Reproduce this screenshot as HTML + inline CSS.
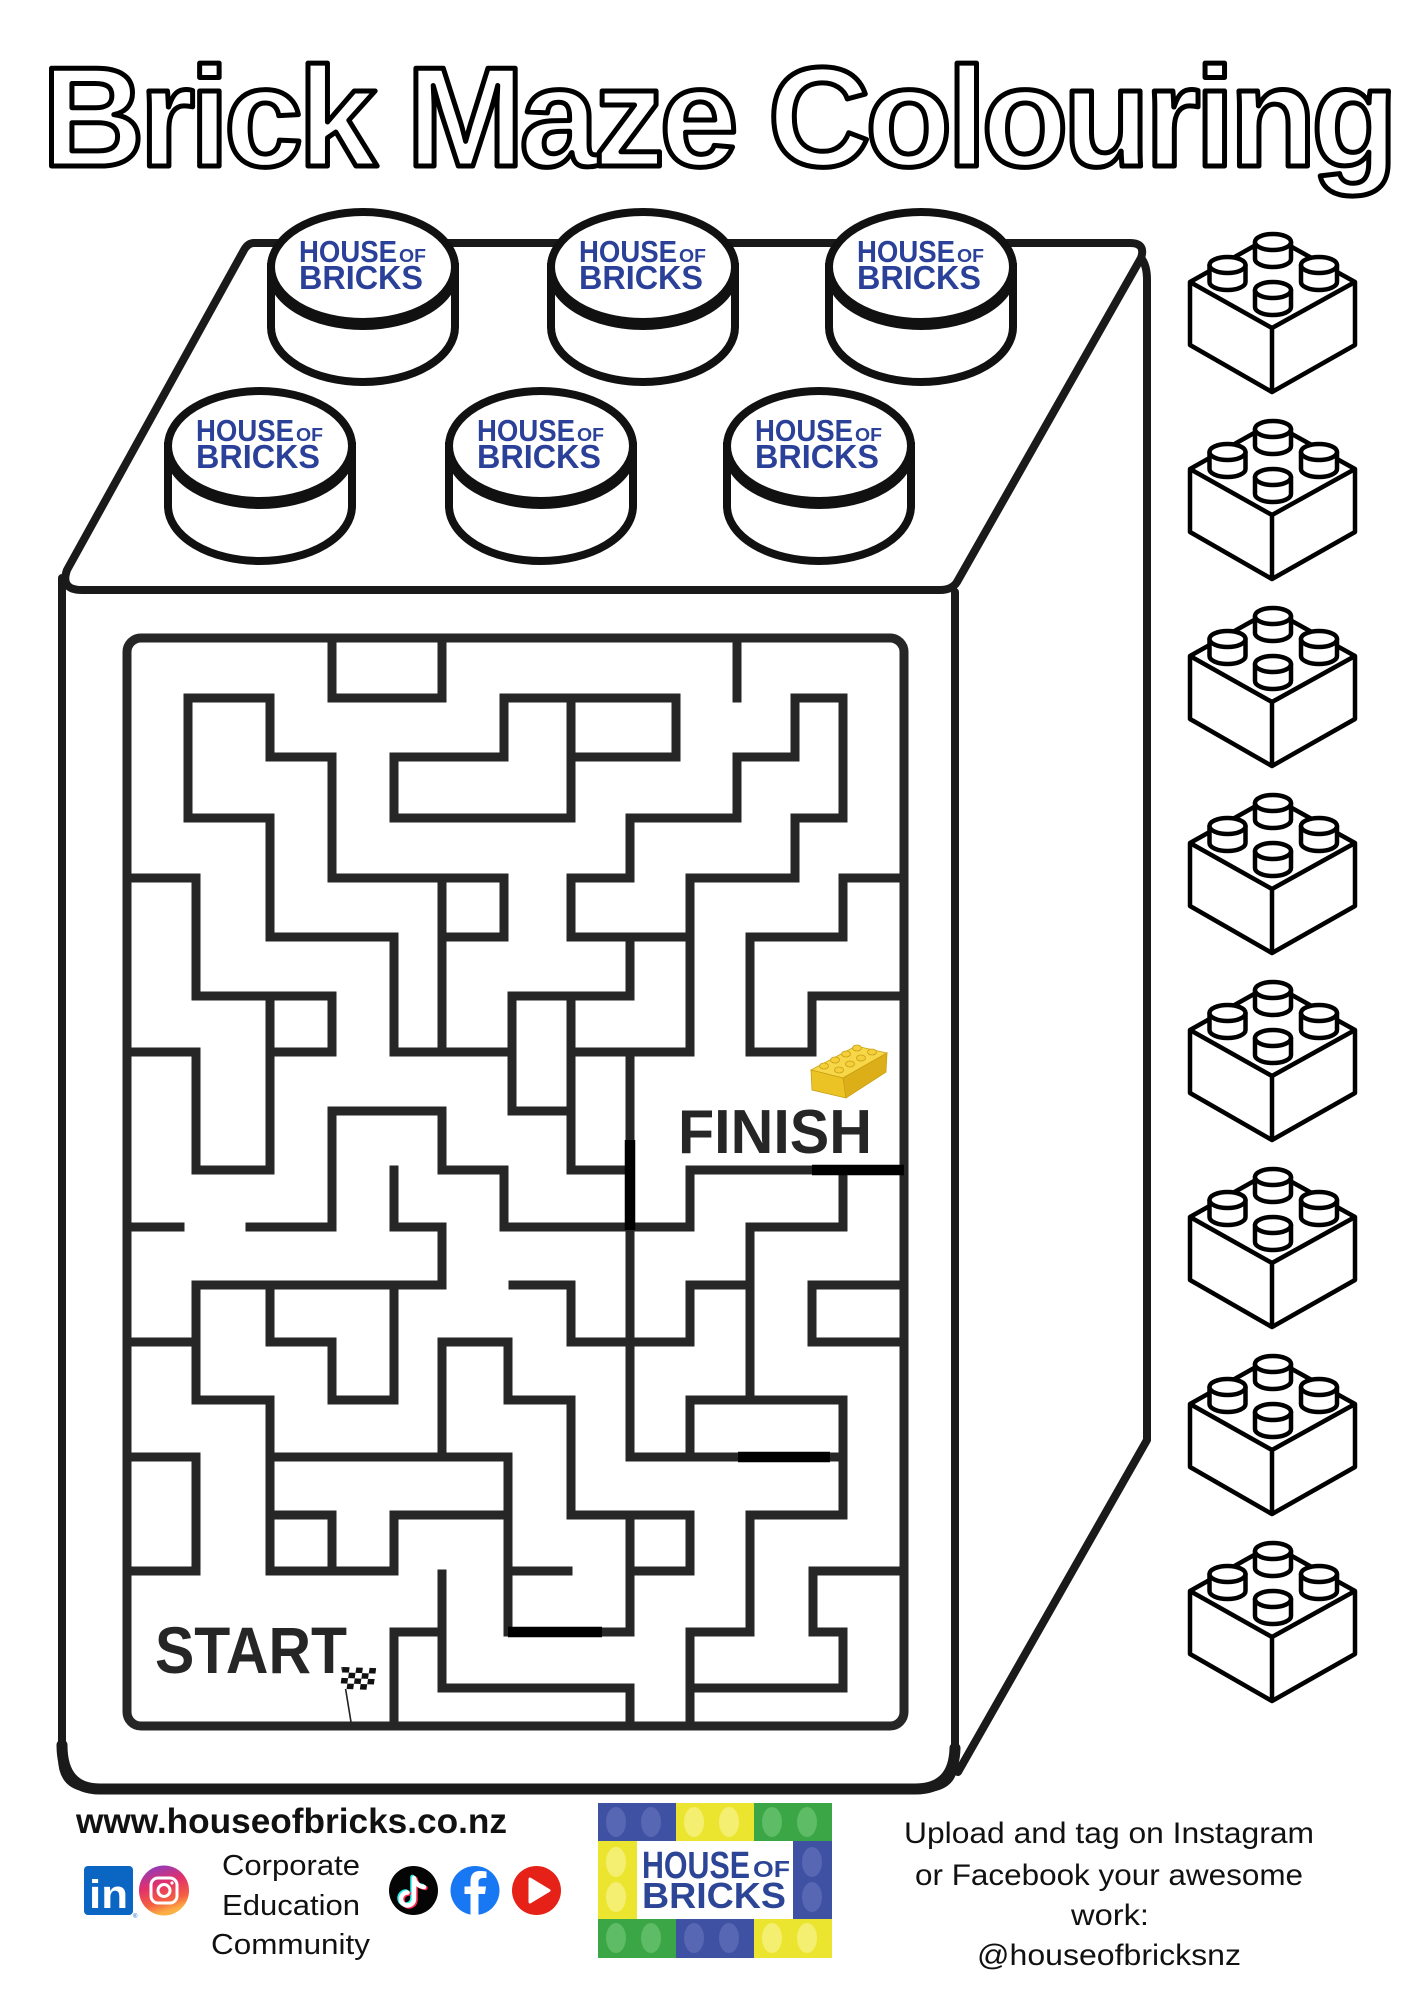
<!DOCTYPE html>
<html>
<head>
<meta charset="utf-8">
<style>
  html,body{margin:0;padding:0;background:#fff;}
  svg{display:block;}
  text{font-family:"Liberation Sans", Arial, sans-serif;}
</style>
</head>
<body>
<svg width="1414" height="2000" viewBox="0 0 1414 2000" xmlns="http://www.w3.org/2000/svg">
  <defs>
    <linearGradient id="ig" x1="0" y1="0" x2="0.3" y2="1">
      <stop offset="0" stop-color="#7b3fd0"/>
      <stop offset="0.45" stop-color="#e1306c"/>
      <stop offset="0.8" stop-color="#f56040"/>
      <stop offset="1" stop-color="#fcaf45"/>
    </linearGradient>
    <g id="lb">
      <g fill="#fff" stroke="#000" stroke-width="4.5" stroke-linejoin="round">
        <path d="M1190,282 L1272,236 L1355,282 V345 L1272,392 L1190,345 Z"/>
        <path d="M1190,282 L1272,328 L1355,282 M1272,328 V392" fill="none"/>
        <!-- back stud -->
        <path d="M1255,242 V259 A18 8 0 0 0 1291,259 V242 Z"/>
        <ellipse cx="1273" cy="242" rx="18" ry="8"/>
        <!-- left stud -->
        <path d="M1209.5,265 V282 A18 8 0 0 0 1245.5,282 V265 Z"/>
        <ellipse cx="1227.5" cy="265" rx="18" ry="8"/>
        <!-- right stud -->
        <path d="M1301,265 V282 A18 8 0 0 0 1337,282 V265 Z"/>
        <ellipse cx="1319" cy="265" rx="18" ry="8"/>
        <!-- front stud -->
        <path d="M1255,290 V307 A18 8 0 0 0 1291,307 V290 Z"/>
        <ellipse cx="1273" cy="290" rx="18" ry="8"/>
      </g>
    </g>
  </defs>

  <rect width="1414" height="2000" fill="#fff"/>

  <!-- Title -->
  <text x="42" y="166" font-size="142" font-weight="bold" fill="#fff" stroke="#000" stroke-width="5" stroke-linejoin="round" textLength="1356" lengthAdjust="spacing">Brick Maze Colouring</text>

  <!-- Big brick body -->
  <g fill="none" stroke="#1a1a1a" stroke-width="8" stroke-linejoin="round" stroke-linecap="round">
    <path d="M254,243 H1130 Q1146,243 1141,258 L957,582 Q952,590 940,590 H82 Q60,590 67,570 L244,250 Q248,243 254,243 Z" fill="#fff"/>
    <path d="M62,578 V1758 Q62,1788 92,1788 H925 Q955,1788 955,1758 V592"/>
    <path d="M1141,258 Q1147,265 1147,280 V1440 L958,1772"/>
    <path d="M62,1745 Q62,1789 100,1789 H915 Q954,1789 955,1748" stroke-width="11"/>
  </g>

  <!-- Studs: back row -->
  <g fill="#fff" stroke="#111" stroke-width="8">
    <path d="M271,267 V327 A92 55 0 0 0 455,327 V267 Z"/>
    <ellipse cx="363" cy="267" rx="92" ry="55"/>
    <path d="M271,271 A92 55 0 0 0 455,271" fill="none"/>
    <path d="M551,267 V327 A92 55 0 0 0 735,327 V267 Z"/>
    <ellipse cx="643" cy="267" rx="92" ry="55"/>
    <path d="M551,271 A92 55 0 0 0 735,271" fill="none"/>
    <path d="M829,267 V327 A92 55 0 0 0 1013,327 V267 Z"/>
    <ellipse cx="921" cy="267" rx="92" ry="55"/>
    <path d="M829,271 A92 55 0 0 0 1013,271" fill="none"/>
    <!-- front row -->
    <path d="M168,446 V506 A92 55 0 0 0 352,506 V446 Z"/>
    <ellipse cx="260" cy="446" rx="92" ry="55"/>
    <path d="M168,450 A92 55 0 0 0 352,450" fill="none"/>
    <path d="M449,446 V506 A92 55 0 0 0 633,506 V446 Z"/>
    <ellipse cx="541" cy="446" rx="92" ry="55"/>
    <path d="M449,450 A92 55 0 0 0 633,450" fill="none"/>
    <path d="M727,446 V506 A92 55 0 0 0 911,506 V446 Z"/>
    <ellipse cx="819" cy="446" rx="92" ry="55"/>
    <path d="M727,450 A92 55 0 0 0 911,450" fill="none"/>
  </g>

  <!-- Stud logos -->
  <g fill="#2b4199" font-weight="bold">
    <text x="299" y="262" font-size="31" textLength="98" lengthAdjust="spacingAndGlyphs">HOUSE</text>
    <text x="399" y="262" font-size="18" textLength="27" lengthAdjust="spacingAndGlyphs">OF</text>
    <text x="299" y="289" font-size="33" textLength="124" lengthAdjust="spacingAndGlyphs">BRICKS</text>

    <text x="579" y="262" font-size="31" textLength="98" lengthAdjust="spacingAndGlyphs">HOUSE</text>
    <text x="679" y="262" font-size="18" textLength="27" lengthAdjust="spacingAndGlyphs">OF</text>
    <text x="579" y="289" font-size="33" textLength="124" lengthAdjust="spacingAndGlyphs">BRICKS</text>

    <text x="857" y="262" font-size="31" textLength="98" lengthAdjust="spacingAndGlyphs">HOUSE</text>
    <text x="957" y="262" font-size="18" textLength="27" lengthAdjust="spacingAndGlyphs">OF</text>
    <text x="857" y="289" font-size="33" textLength="124" lengthAdjust="spacingAndGlyphs">BRICKS</text>

    <text x="196" y="441" font-size="31" textLength="98" lengthAdjust="spacingAndGlyphs">HOUSE</text>
    <text x="296" y="441" font-size="18" textLength="27" lengthAdjust="spacingAndGlyphs">OF</text>
    <text x="196" y="468" font-size="33" textLength="124" lengthAdjust="spacingAndGlyphs">BRICKS</text>

    <text x="477" y="441" font-size="31" textLength="98" lengthAdjust="spacingAndGlyphs">HOUSE</text>
    <text x="577" y="441" font-size="18" textLength="27" lengthAdjust="spacingAndGlyphs">OF</text>
    <text x="477" y="468" font-size="33" textLength="124" lengthAdjust="spacingAndGlyphs">BRICKS</text>

    <text x="755" y="441" font-size="31" textLength="98" lengthAdjust="spacingAndGlyphs">HOUSE</text>
    <text x="855" y="441" font-size="18" textLength="27" lengthAdjust="spacingAndGlyphs">OF</text>
    <text x="755" y="468" font-size="33" textLength="124" lengthAdjust="spacingAndGlyphs">BRICKS</text>
  </g>

  <!-- Maze -->
  <g fill="none" stroke="#262626" stroke-width="9" stroke-linecap="square" stroke-linejoin="miter">
    <rect x="127" y="638" width="777" height="1088" rx="14"/>
    <path d="M332,638 V698 H442 V638"/>
    <path d="M270,757 V698 H188 V818 H270 V937 H394 V1052"/>
    <path d="M270,757 H332 V878 H504 V937 H442"/>
    <path d="M442,878 V1052"/>
    <path d="M127,878 H196 V996 H332 V1052 H270"/>
    <path d="M270,996 V1170 H196 V1052 H127"/>
    <path d="M504,698 V757 H394 V818 H571 V698"/>
    <path d="M504,698 H676 V757 H571"/>
    <path d="M737,638 V698"/>
    <path d="M737,757 H795 V698 H843 V818 H795 V878 H690 V1052 H571"/>
    <path d="M737,757 V818 H630 V878 H571 V937 H690"/>
    <path d="M630,937 V996 H512 V1111 H571"/>
    <path d="M571,996 V1170 H630"/>
    <path d="M904,878 H843 V937 H750 V1052 H812 V996 H904"/>
    <path d="M630,1052 V1457"/>
    <path d="M394,1052 H512"/>
    <path d="M332,1227 V1111 H442 V1170 H504 V1227 H690 V1170 H904"/>
    <path d="M127,1227 H180"/>
    <path d="M250,1227 H332"/>
    <path d="M394,1170 V1227 H442 V1285 H196 V1400 H270 V1571 H394 V1515 H508 V1632 H630"/>
    <path d="M270,1515 H332 V1571"/>
    <path d="M270,1285 V1342 H332 V1400 H394 V1285"/>
    <path d="M513,1285 H571 V1342 H690 V1285 H750"/>
    <path d="M843,1170 V1227 H750 V1400"/>
    <path d="M904,1285 H812 V1342 H904"/>
    <path d="M442,1342 H508 V1400 H571 V1515 H690 V1571 H630"/>
    <path d="M442,1342 V1457"/>
    <path d="M270,1457 H508 V1515"/>
    <path d="M127,1457 H196 V1571 H127"/>
    <path d="M630,1457 H843"/>
    <path d="M690,1400 V1457"/>
    <path d="M690,1400 H843 V1515 H750 V1632 H690 V1726"/>
    <path d="M508,1571 H568"/>
    <path d="M904,1571 H813 V1632 H843 V1688 H690"/>
    <path d="M442,1574 V1688 H630 V1726"/>
    <path d="M394,1632 H442"/>
    <path d="M394,1632 V1726"/>
    <path d="M127,1342 H196"/>
    <path d="M630,1515 V1632"/>
  </g>
  <g stroke="#000" stroke-width="10.5" fill="none">
    <path d="M630,1140 V1230"/>
    <path d="M812,1170 H904"/>
    <path d="M738,1457 H830"/>
    <path d="M508,1632 H602"/>
  </g>

  <!-- FINISH / START -->
  <text x="678" y="1153" font-size="62" font-weight="bold" fill="#262626" textLength="194" lengthAdjust="spacingAndGlyphs">FINISH</text>
  <text x="155" y="1673" font-size="66" font-weight="bold" fill="#262626" textLength="192" lengthAdjust="spacingAndGlyphs">START</text>

  <!-- yellow brick -->
  <g stroke="#c9a013" stroke-width="0.8">
    <path d="M811,1070 L856,1046 L887,1053 L843,1078 Z" fill="#f7d648"/>
    <path d="M811,1070 L843,1078 L846,1098 L812,1090 Z" fill="#ecc325"/>
    <path d="M843,1078 L887,1053 L886,1072 L846,1098 Z" fill="#dcae18"/>
    <g fill="#f4cf3a">
      <ellipse cx="824" cy="1066" rx="4.5" ry="3"/>
      <ellipse cx="835" cy="1060" rx="4.5" ry="3"/>
      <ellipse cx="846" cy="1054" rx="4.5" ry="3"/>
      <ellipse cx="857" cy="1048" rx="4.5" ry="3"/>
      <ellipse cx="839" cy="1070" rx="4.5" ry="3"/>
      <ellipse cx="850" cy="1064" rx="4.5" ry="3"/>
      <ellipse cx="861" cy="1058" rx="4.5" ry="3"/>
      <ellipse cx="872" cy="1052" rx="4.5" ry="3"/>
    </g>
  </g>

  <!-- checkered flag -->
  <line x1="342" y1="1667" x2="351" y2="1722" stroke="#222" stroke-width="1.6"/>
  <g transform="translate(343,1667) rotate(8) skewY(-6)">
    <rect x="0" y="0" width="33" height="22" fill="#fff"/>
    <g fill="#111">
      <rect x="0" y="0" width="6.6" height="5.5"/>
      <rect x="13.2" y="0" width="6.6" height="5.5"/>
      <rect x="26.4" y="0" width="6.6" height="5.5"/>
      <rect x="6.6" y="5.5" width="6.6" height="5.5"/>
      <rect x="19.8" y="5.5" width="6.6" height="5.5"/>
      <rect x="0" y="11" width="6.6" height="5.5"/>
      <rect x="13.2" y="11" width="6.6" height="5.5"/>
      <rect x="26.4" y="11" width="6.6" height="5.5"/>
      <rect x="6.6" y="16.5" width="6.6" height="5.5"/>
      <rect x="19.8" y="16.5" width="6.6" height="5.5"/>
    </g>
  </g>

  <!-- Right column bricks -->
  <use href="#lb"/>
  <use href="#lb" transform="translate(0,187)"/>
  <use href="#lb" transform="translate(0,374)"/>
  <use href="#lb" transform="translate(0,561)"/>
  <use href="#lb" transform="translate(0,748)"/>
  <use href="#lb" transform="translate(0,935)"/>
  <use href="#lb" transform="translate(0,1122)"/>
  <use href="#lb" transform="translate(0,1309)"/>

  <!-- Footer left -->
  <text x="76" y="1833" font-size="35" font-weight="bold" fill="#111" textLength="431" lengthAdjust="spacingAndGlyphs">www.houseofbricks.co.nz</text>

  <rect x="84" y="1866" width="49" height="49" rx="4" fill="#0a66c2"/>
  <text x="89" y="1908" font-size="40" font-weight="bold" fill="#fff" textLength="39" lengthAdjust="spacingAndGlyphs">in</text>
  <text x="133" y="1918" font-size="6" fill="#0a66c2">®</text>

  <circle cx="164" cy="1890.5" r="25" fill="url(#ig)"/>
  <rect x="151" y="1878" width="26" height="25" rx="7" fill="none" stroke="#fff" stroke-width="3"/>
  <circle cx="164" cy="1890.5" r="6" fill="none" stroke="#fff" stroke-width="3"/>
  <circle cx="172" cy="1883" r="1.6" fill="#fff"/>

  <g font-size="29" fill="#111">
    <text x="222" y="1875" textLength="138" lengthAdjust="spacingAndGlyphs">Corporate</text>
    <text x="222" y="1915" textLength="138" lengthAdjust="spacingAndGlyphs">Education</text>
    <text x="211" y="1954" textLength="159" lengthAdjust="spacingAndGlyphs">Community</text>
  </g>

  <!-- TikTok -->
  <circle cx="413.5" cy="1890.5" r="24.5" fill="#050505"/>
  <g fill="none" stroke-width="4.5" stroke-linecap="round">
    <path d="M414,1878 V1899 A6.5,6.5 0 1 1 407.5,1892.5 M414,1878 Q416,1886 424,1887" stroke="#25f4ee" transform="translate(-1.5,-1)"/>
    <path d="M414,1878 V1899 A6.5,6.5 0 1 1 407.5,1892.5 M414,1878 Q416,1886 424,1887" stroke="#fe2c55" transform="translate(1.5,1)"/>
    <path d="M414,1878 V1899 A6.5,6.5 0 1 1 407.5,1892.5 M414,1878 Q416,1886 424,1887" stroke="#fff"/>
  </g>

  <!-- Facebook -->
  <circle cx="475" cy="1890.5" r="24.5" fill="#1877f2"/>
  <path d="M478.5,1915 V1894 H485 L486,1886.5 H478.5 V1882 Q478.5,1878 483,1878 H486.5 V1871.5 Q483,1871 480,1871 Q470.5,1871 470.5,1881 V1886.5 H464.5 V1894 H470.5 V1915 Z" fill="#fff"/>

  <!-- YouTube -->
  <circle cx="536.5" cy="1890.5" r="24.5" fill="#e62117"/>
  <path d="M530,1879 L549,1890.5 L530,1902 Z" fill="#fff" stroke="#fff" stroke-width="3" stroke-linejoin="round"/>

  <!-- Center logo -->
  <g>
    <rect x="598" y="1803" width="78" height="38" fill="#3f51a3"/>
    <rect x="676" y="1803" width="78" height="38" fill="#ece52f"/>
    <rect x="754" y="1803" width="78" height="38" fill="#3aa646"/>
    <rect x="598" y="1841" width="39" height="78" fill="#ece52f"/>
    <rect x="637" y="1841" width="156" height="78" fill="#fff"/>
    <rect x="793" y="1841" width="39" height="78" fill="#3f51a3"/>
    <rect x="598" y="1919" width="78" height="39" fill="#3aa646"/>
    <rect x="676" y="1919" width="78" height="39" fill="#3f51a3"/>
    <rect x="754" y="1919" width="78" height="39" fill="#ece52f"/>
    <g fill="#5767b3">
      <ellipse cx="616" cy="1822" rx="10" ry="15"/>
      <ellipse cx="651" cy="1822" rx="10" ry="15"/>
      <ellipse cx="812" cy="1862" rx="10" ry="15"/>
      <ellipse cx="812" cy="1897" rx="10" ry="15"/>
      <ellipse cx="694" cy="1938" rx="10" ry="15"/>
      <ellipse cx="729" cy="1938" rx="10" ry="15"/>
    </g>
    <g fill="#f4ef70">
      <ellipse cx="694" cy="1822" rx="10" ry="15"/>
      <ellipse cx="729" cy="1822" rx="10" ry="15"/>
      <ellipse cx="616" cy="1862" rx="10" ry="15"/>
      <ellipse cx="616" cy="1897" rx="10" ry="15"/>
      <ellipse cx="772" cy="1938" rx="10" ry="15"/>
      <ellipse cx="807" cy="1938" rx="10" ry="15"/>
    </g>
    <g fill="#5ebb66">
      <ellipse cx="772" cy="1822" rx="10" ry="15"/>
      <ellipse cx="807" cy="1822" rx="10" ry="15"/>
      <ellipse cx="616" cy="1938" rx="10" ry="15"/>
      <ellipse cx="651" cy="1938" rx="10" ry="15"/>
    </g>
    <g fill="#2d4596" font-weight="bold">
      <text x="642" y="1878" font-size="38" textLength="108" lengthAdjust="spacingAndGlyphs">HOUSE</text>
      <text x="753" y="1877" font-size="23" textLength="37" lengthAdjust="spacingAndGlyphs">OF</text>
      <text x="642" y="1908" font-size="36" textLength="144" lengthAdjust="spacingAndGlyphs">BRICKS</text>
    </g>
  </g>

  <!-- Footer right text -->
  <g font-size="30" fill="#111">
    <text x="904" y="1843" textLength="410" lengthAdjust="spacingAndGlyphs">Upload and tag on Instagram</text>
    <text x="915" y="1885" textLength="388" lengthAdjust="spacingAndGlyphs">or Facebook your awesome</text>
    <text x="1071" y="1925" textLength="78" lengthAdjust="spacingAndGlyphs">work:</text>
    <text x="977" y="1965" textLength="264" lengthAdjust="spacingAndGlyphs">@houseofbricksnz</text>
  </g>
</svg>
</body>
</html>
